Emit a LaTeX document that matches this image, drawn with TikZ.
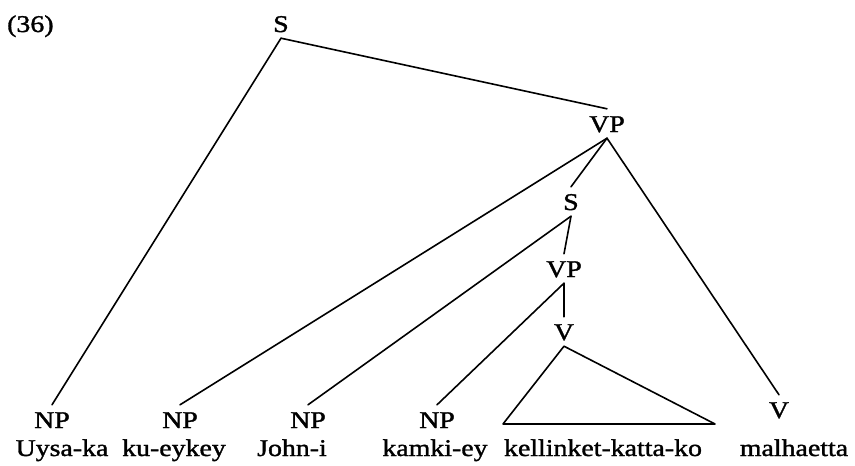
\documentclass[tikz,border=0pt]{standalone}
\usepackage{fontspec}
\setmainfont[FakeStretch=1.16, FakeBold=1.4]{Liberation Serif}
\begin{document}
\begin{tikzpicture}[x=1pt, y=-1pt,
    font=\fontsize{24}{24}\selectfont,
    cat/.style={anchor=base, inner xsep=0pt, inner ysep=6pt,
                text height=17pt, text depth=0pt},
    word/.style={anchor=base, inner sep=0pt},
    branch/.style={line width=1.6pt, line cap=round, line join=round}]
  \useasboundingbox (0,0) rectangle (855,466);

  % example number
  \node[anchor=base west, inner sep=0pt] (num) at (7,32) {(36)};

  % category labels
  \node[cat] (S1)  at (281,32)  {S};
  \node[cat] (VP1) at (607,132) {VP};
  \node[cat] (S2)  at (571,210) {S};
  \node[cat] (VP2) at (564,277) {VP};
  \node[cat] (V2)  at (564,340) {V};
  \node[cat] (V3)  at (779,418) {V};
  \node[cat] (NP1) at (52,428)  {NP};
  \node[cat] (NP2) at (180,428) {NP};
  \node[cat] (NP3) at (308,428) {NP};
  \node[cat] (NP4) at (437,428) {NP};

  % terminal words
  \node[word] (w1) at (62,456)  {Uysa-ka};
  \node[word] (w2) at (174,456) {ku-eykey};
  \node[word] (w3) at (292,456) {John-i};
  \node[word] (w4) at (435,456) {kamki-ey};
  \node[word] (w5) at (603,456) {kellinket-katta-ko};
  \node[word] (w6) at (794,456) {malhaetta};

  % base corners of the triangle over the compound verb
  \coordinate (tl) at (503,424);
  \coordinate (tr) at (715,424);

  % branches
  \draw[branch] (S1.south) -- (VP1.north);
  \draw[branch] (S1.south) -- (NP1.north);
  \draw[branch] (VP1.south) -- (NP2.north);
  \draw[branch] (VP1.south) -- (S2.north);
  \draw[branch] (VP1.south) -- (V3.north);
  \draw[branch] (S2.south) -- (NP3.north);
  \draw[branch] (S2.south) -- (VP2.north);
  \draw[branch] (VP2.south) -- (NP4.north);
  \draw[branch] (VP2.south) -- (V2.north);
  \draw[branch] (V2.south) -- (tl) -- (tr) -- cycle;
\end{tikzpicture}
\end{document}
